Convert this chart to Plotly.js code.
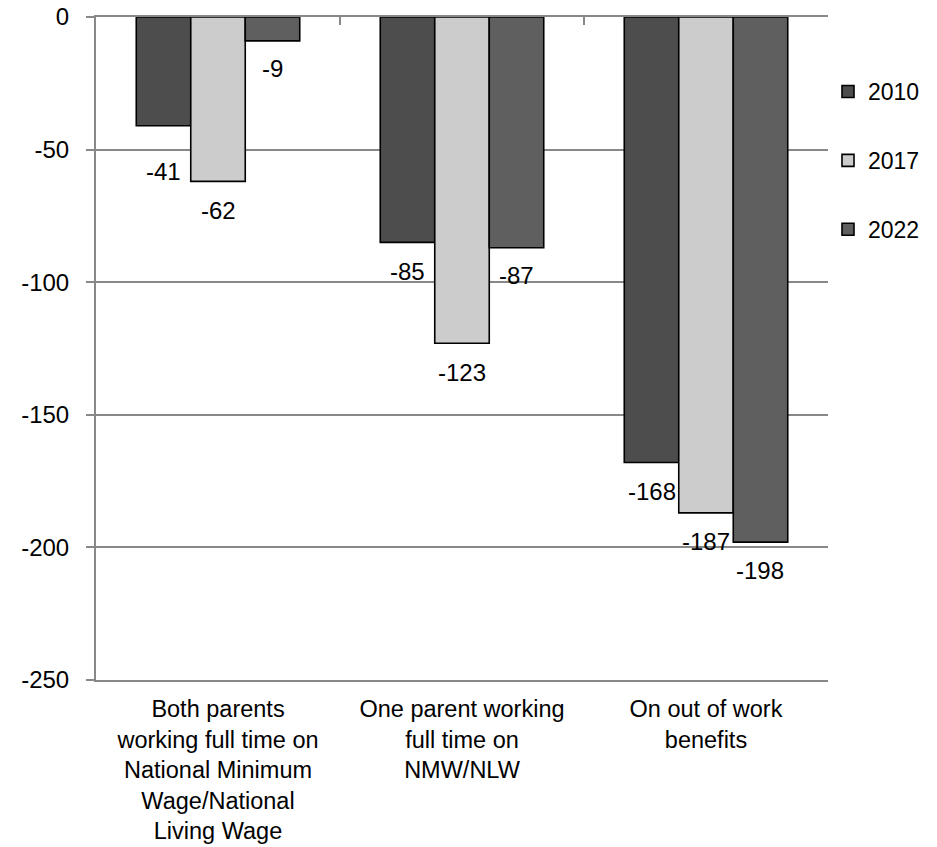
<!DOCTYPE html>
<html>
<head>
<meta charset="utf-8">
<script src="https://cdn.plot.ly/plotly-3.0.1.min.js"></script>
<style>
  html, body { margin: 0; padding: 0; background: #ffffff; }
  #chart { width: 937px; height: 847px; }
</style>
</head>
<body>
<div id="chart"></div>
<script>
// ---- Data ----
const categories = [
  "Both parents<br>working full time on<br>National Minimum<br>Wage/National<br>Living Wage",
  "One parent working<br>full time on<br>NMW/NLW",
  "On out of work<br>benefits"
];
const seriesNames = ["2010", "2017", "2022"];
const values2010 = [-41, -85, -168];
const values2017 = [-62, -123, -187];
const values2022 = [-9, -87, -198];
const yTickValues = [0, -50, -100, -150, -200, -250];
const yTickLabels = ["0", "-50", "-100", "-150", "-200", "-250"];

// ---- Styles ----
const FONT = "Liberation Sans, Arial, sans-serif";
const GRID = "#888888";
const colors = ["#4d4d4d", "#cccccc", "#5f5f5f"];
const allSeries = [values2010, values2017, values2022];
const bargap = 0.33;
const barW = (1 - bargap) / 3;
// per-label vertical pixel shift (label placement only)
const labelShift = [[-46, -29, -28], [-29, -29, -28], [-29, -29, -28]];

const traces = allSeries.map((vals, j) => ({
  type: "bar",
  name: seriesNames[j],
  x: categories.map((_, i) => i),
  y: vals,
  legendgroup: "g" + j,
  marker: { color: colors[j], line: { color: "#000000", width: 1.6 } },
  hoverinfo: "skip"
}));

// dummy trace on the top axis so it is drawn
traces.push({
  type: "scatter", mode: "markers", x: [-0.5, 2.5], y: [null, null],
  xaxis: "x2", yaxis: "y", showlegend: false, hoverinfo: "skip"
});

const annotations = [];
allSeries.forEach((vals, j) => {
  vals.forEach((v, i) => {
    annotations.push({
      xref: "x", yref: "y",
      x: i + (j - 1) * barW, y: v,
      text: String(v), showarrow: false,
      xanchor: "center", yanchor: "middle",
      yshift: labelShift[i][j],
      font: { family: FONT, size: 24, color: "#000000" }
    });
  });
});

const layout = {
  width: 937, height: 847,
  margin: { l: 96, r: 109, t: 17, b: 167, pad: 0, autoexpand: false },
  paper_bgcolor: "#ffffff", plot_bgcolor: "#ffffff",
  font: { family: FONT, size: 24, color: "#000000" },
  barmode: "group", bargap: bargap, bargroupgap: 0,
  showlegend: true,
  legend: {
    x: 1.0, xanchor: "left", y: 0.92, yanchor: "top",
    font: { family: FONT, size: 23, color: "#000000" },
    traceorder: "grouped", tracegroupgap: 36,
    bgcolor: "rgba(0,0,0,0)", borderwidth: 0
  },
  xaxis: {
    type: "linear", range: [-0.5, 2.5],
    tickvals: [0, 1, 2], ticktext: categories,
    ticks: "", showgrid: false, zeroline: false,
    ticklabelstandoff: 7, automargin: false,
    showline: true, linecolor: GRID, linewidth: 2,
    tickfont: { family: FONT, size: 23.5, color: "#000000" },
    fixedrange: true
  },
  xaxis2: {
    overlaying: "x", side: "top", anchor: "y",
    range: [-0.5, 2.5], tickvals: [-0.5, 0.5, 1.5, 2.5],
    ticks: "inside", ticklen: 8, tickwidth: 2, tickcolor: GRID,
    showticklabels: false, showgrid: false, zeroline: false,
    showline: true, linecolor: GRID, linewidth: 2, fixedrange: true
  },
  yaxis: {
    range: [-250, 0], tickvals: yTickValues, ticktext: yTickLabels,
    ticks: "outside", ticklen: 8, tickwidth: 2, tickcolor: GRID,
    ticklabelstandoff: 12, automargin: false,
    showgrid: true, gridcolor: GRID, gridwidth: 2,
    zeroline: false,
    showline: true, linecolor: GRID, linewidth: 2,
    tickfont: { family: FONT, size: 24, color: "#000000" },
    fixedrange: true
  },
  annotations: annotations
};

Plotly.newPlot("chart", traces, layout, { displayModeBar: false, staticPlot: true });
</script>
</body>
</html>
